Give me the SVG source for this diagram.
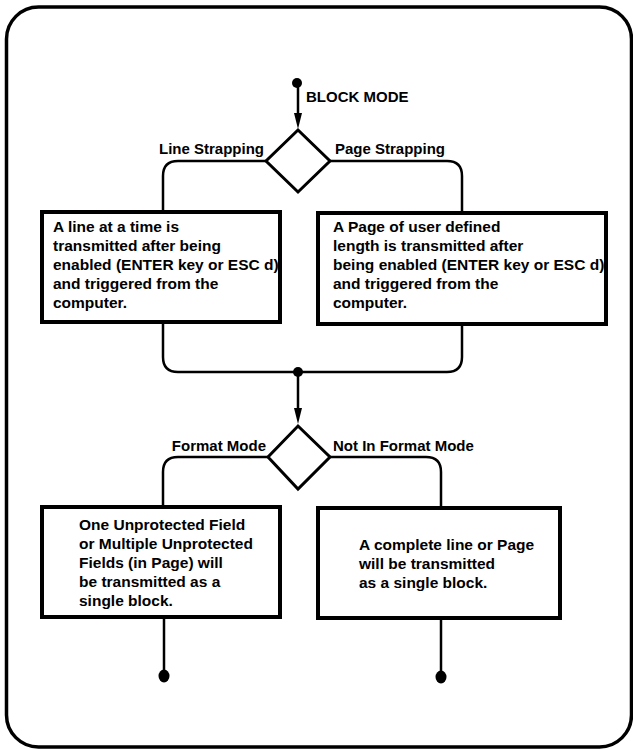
<svg xmlns="http://www.w3.org/2000/svg" width="633" height="749" viewBox="0 0 633 749">
<style>
text{font-family:"Liberation Sans",Arial,sans-serif;font-weight:bold;font-size:15px;fill:#000}
.bt{font-size:15.5px}
.box{fill:#fff;stroke:#000;stroke-width:4}
.dia{fill:#fff;stroke:#000;stroke-width:3}
.ln{fill:none;stroke:#000;stroke-width:2.5}
.dot{fill:#000}
</style>
<rect x="6.5" y="7" width="625" height="740" rx="32" ry="32" fill="#fff" stroke="#000" stroke-width="3.5"/>
<g id="connectors">
<path class="ln" d="M298,83 V115"/>
<path d="M294,113 L302,113 L298,129 Z" fill="#000"/>
<path class="ln" d="M266,161 H178 Q163,161 163,176 V212"/>
<path class="ln" d="M330,161 H447 Q462,161 462,176 V213"/>
<path class="ln" d="M163,322 V357 Q163,372 178,372 H447 Q462,372 462,357 V324"/>
<path class="ln" d="M298,372 V410"/>
<path d="M294,408 L302,408 L298,424 Z" fill="#000"/>
<path class="ln" d="M268,457 H178 Q163,457 163,472 V507"/>
<path class="ln" d="M330,457 H426 Q441,457 441,472 V508"/>
<path class="ln" d="M164,617 V676"/>
<path class="ln" d="M441,618 V677"/>
</g>
<g id="start">
<circle class="dot" cx="297" cy="83" r="5"/>
<text x="306" y="102">BLOCK MODE</text>
</g>
<g id="decision1">
<polygon class="dia" points="298,130 330,161 298,192 266,161"/>
<text x="264" y="154" text-anchor="end">Line Strapping</text>
<text x="335" y="154">Page Strapping</text>
</g>
<g id="lineBox">
<rect class="box" x="42" y="212" width="238" height="110"/>
<text class="bt" x="53" y="232">A line at a time is</text>
<text class="bt" x="53" y="251">transmitted after being</text>
<text class="bt" x="53" y="270">enabled (ENTER key or ESC d)</text>
<text class="bt" x="53" y="289">and triggered from the</text>
<text class="bt" x="53" y="308">computer.</text>
</g>
<g id="pageBox">
<rect class="box" x="318" y="213" width="288" height="111"/>
<text class="bt" x="333" y="232">A Page of user defined</text>
<text class="bt" x="333" y="251">length is transmitted after</text>
<text class="bt" x="333" y="270">being enabled (ENTER key or ESC d)</text>
<text class="bt" x="333" y="289">and triggered from the</text>
<text class="bt" x="333" y="308">computer.</text>
</g>
<g id="junction">
<circle class="dot" cx="298" cy="372" r="5"/>
</g>
<g id="decision2">
<polygon class="dia" points="298,426 330,457 298,489 268,457"/>
<text x="266" y="451" text-anchor="end">Format Mode</text>
<text x="333" y="451">Not In Format Mode</text>
</g>
<g id="formatBox">
<rect class="box" x="42" y="507" width="238" height="110"/>
<text class="bt" x="79" y="530">One Unprotected Field</text>
<text class="bt" x="79" y="549">or Multiple Unprotected</text>
<text class="bt" x="79" y="568">Fields (in Page) will</text>
<text class="bt" x="79" y="587">be transmitted as a</text>
<text class="bt" x="79" y="606">single block.</text>
</g>
<g id="notFormatBox">
<rect class="box" x="318" y="508" width="242" height="110"/>
<text class="bt" x="359" y="550">A complete line or Page</text>
<text class="bt" x="359" y="569">will be transmitted</text>
<text class="bt" x="359" y="588">as a single block.</text>
</g>
<g id="end1"><ellipse class="dot" cx="164" cy="676" rx="5.5" ry="6.5"/></g>
<g id="end2"><ellipse class="dot" cx="441" cy="677" rx="5.5" ry="6.5"/></g>
</svg>
